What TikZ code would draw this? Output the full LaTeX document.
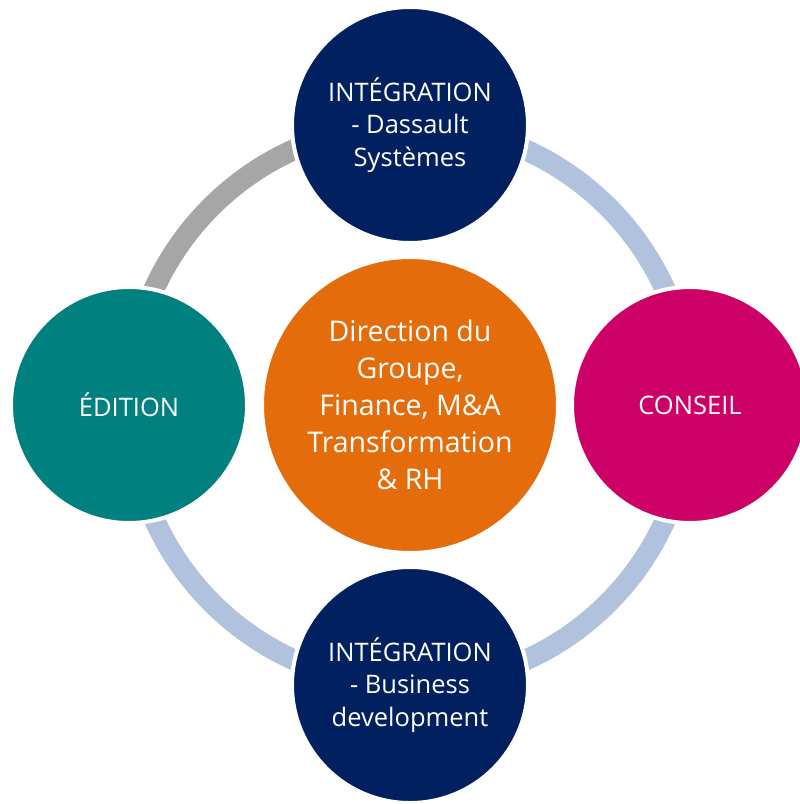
\documentclass[tikz,border=0pt]{standalone}
\usepackage{fontspec}
\setmainfont{Open Sans}
\definecolor{navy}{HTML}{002060}
\definecolor{tealc}{HTML}{00807F}
\definecolor{magc}{HTML}{CC0066}
\definecolor{orangec}{HTML}{E46C0A}
\definecolor{ringblue}{HTML}{B0C2DE}
\definecolor{ringgray}{HTML}{A6A6A6}
\begin{document}
\begin{tikzpicture}[x=1pt,y=-1pt,
  outer/.style={circle, minimum size=236pt, inner sep=0pt, draw=white, line width=4pt, text=white, align=center, font=\fontsize{25.5}{32.5}\selectfont},
  inner/.style={circle, minimum size=296pt, inner sep=0pt, draw=white, line width=4pt, fill=orangec, text=white, align=center, font=\fontsize{28.5}{37}\selectfont},
  ring/.style={line width=21pt, draw=ringblue}]
\useasboundingbox (0,0) rectangle (800,804);
\clip (0,0) rectangle (800,804);
\coordinate (o) at (410,405);
\coordinate (pt) at (410,125);
\coordinate (pr) at (690,405);
\coordinate (pb) at (410,685);
\coordinate (pl) at (129,405);
\draw[ring] (pt) arc[start angle=270, end angle=360, radius=280];
\draw[ring] (pr) arc[start angle=0, end angle=90, radius=280];
\draw[ring] (pb) arc[start angle=90, end angle=180, radius=280];
\draw[ring, draw=ringgray] (pl) arc[start angle=180, end angle=270, radius=280];
\node[inner] (c) at (o) {Direction du\\Groupe,\\Finance, M\&A\\Transformation\\\& RH};
\node[outer, fill=navy] (top) at (pt) {INTÉGRATION\\- Dassault\\Systèmes};
\node[outer, fill=magc] (right) at (pr) {CONSEIL};
\node[outer, fill=navy] (bottom) at (pb) {INTÉGRATION\\- Business\\development};
\node[outer, fill=tealc] (left) at (pl) {ÉDITION};
\end{tikzpicture}
\end{document}
